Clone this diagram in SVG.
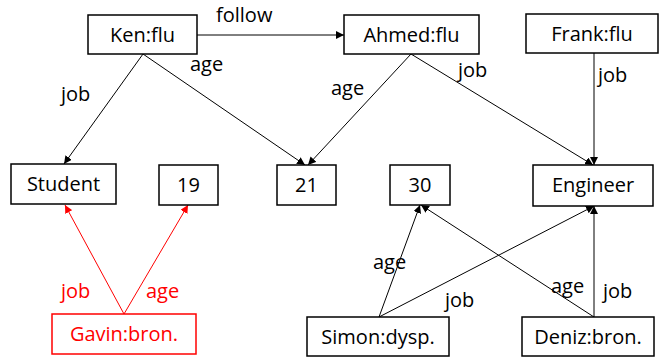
<svg xmlns="http://www.w3.org/2000/svg" width="660" height="358" viewBox="0 0 660 358">
<style>
.box{fill:#fff;stroke:#000;stroke-width:1.5}
.rbox{fill:#fff;stroke:#f00;stroke-width:1.5}
.t{font-family:"Open Sans","Liberation Sans",sans-serif;font-size:20px;fill:#000;text-anchor:middle}
.lbl{font-family:"Open Sans","Liberation Sans",sans-serif;font-size:20px;fill:#000}
.red{fill:#f00}
.e{stroke:#000;stroke-width:1;fill:none;marker-end:url(#ab)}
.er{stroke:#f00;stroke-width:1;fill:none;marker-end:url(#ar)}
</style>
<defs>
<marker id="ab" viewBox="0 0 10 10" refX="10" refY="5" markerWidth="8" markerHeight="8" markerUnits="userSpaceOnUse" orient="auto"><path d="M0,0 L10,5 L0,10 z" fill="#000"/></marker>
<marker id="ar" viewBox="0 0 10 10" refX="10" refY="5" markerWidth="8" markerHeight="8" markerUnits="userSpaceOnUse" orient="auto"><path d="M0,0 L10,5 L0,10 z" fill="#f00"/></marker>
</defs>
<g id="connectors">
<line class="e" x1="197" y1="35" x2="344" y2="35"/>
<line class="e" x1="143" y1="54" x2="64" y2="164"/>
<line class="e" x1="143" y1="54" x2="305" y2="165"/>
<line class="e" x1="411" y1="54" x2="308" y2="165"/>
<line class="e" x1="411" y1="54" x2="593" y2="165"/>
<line class="e" x1="594" y1="53" x2="594" y2="165"/>
<line class="er" x1="124" y1="314" x2="65" y2="205"/>
<line class="er" x1="124" y1="314" x2="188" y2="205"/>
<line class="e" x1="379" y1="317" x2="420" y2="205"/>
<line class="e" x1="379" y1="317" x2="594" y2="206"/>
<line class="e" x1="594" y1="317" x2="421" y2="205"/>
<line class="e" x1="594" y1="317" x2="594" y2="206"/>
<text class="lbl" x="216" y="22">follow</text>
<text class="lbl" x="190" y="71">age</text>
<text class="lbl" x="61" y="101">job</text>
<text class="lbl" x="331" y="95">age</text>
<text class="lbl" x="458" y="77">job</text>
<text class="lbl" x="598" y="82">job</text>
<text class="lbl red" x="61" y="298">job</text>
<text class="lbl red" x="146" y="298">age</text>
<text class="lbl" x="373" y="269">age</text>
<text class="lbl" x="445" y="307">job</text>
<text class="lbl" x="551" y="293">age</text>
<text class="lbl" x="603" y="298">job</text>
</g>
<g id="ken"><rect class="box" x="88" y="15" width="109" height="39"/><text class="t" x="142.5" y="42">Ken:flu</text></g>
<g id="ahmed"><rect class="box" x="344" y="15" width="135" height="39"/><text class="t" x="411.5" y="42">Ahmed:flu</text></g>
<g id="frank"><rect class="box" x="526" y="14" width="132" height="39"/><text class="t" x="592" y="41">Frank:flu</text></g>
<g id="student"><rect class="box" x="11" y="164" width="105" height="40"/><text class="t" x="63.5" y="191">Student</text></g>
<g id="n19"><rect class="box" x="159" y="165" width="59" height="40"/><text class="t" x="188.5" y="192">19</text></g>
<g id="n21"><rect class="box" x="277" y="165" width="59" height="40"/><text class="t" x="306.5" y="192">21</text></g>
<g id="n30"><rect class="box" x="390" y="165" width="60" height="40"/><text class="t" x="420" y="192">30</text></g>
<g id="engineer"><rect class="box" x="533" y="165" width="120" height="41"/><text class="t" x="593" y="192">Engineer</text></g>
<g id="gavin"><rect class="rbox" x="52" y="314" width="144" height="40"/><text class="t red" x="124" y="341">Gavin:bron.</text></g>
<g id="simon"><rect class="box" x="307" y="317" width="142" height="39"/><text class="t" x="378" y="344">Simon:dysp.</text></g>
<g id="deniz"><rect class="box" x="522" y="317" width="132" height="39"/><text class="t" x="588" y="344">Deniz:bron.</text></g>
</svg>
